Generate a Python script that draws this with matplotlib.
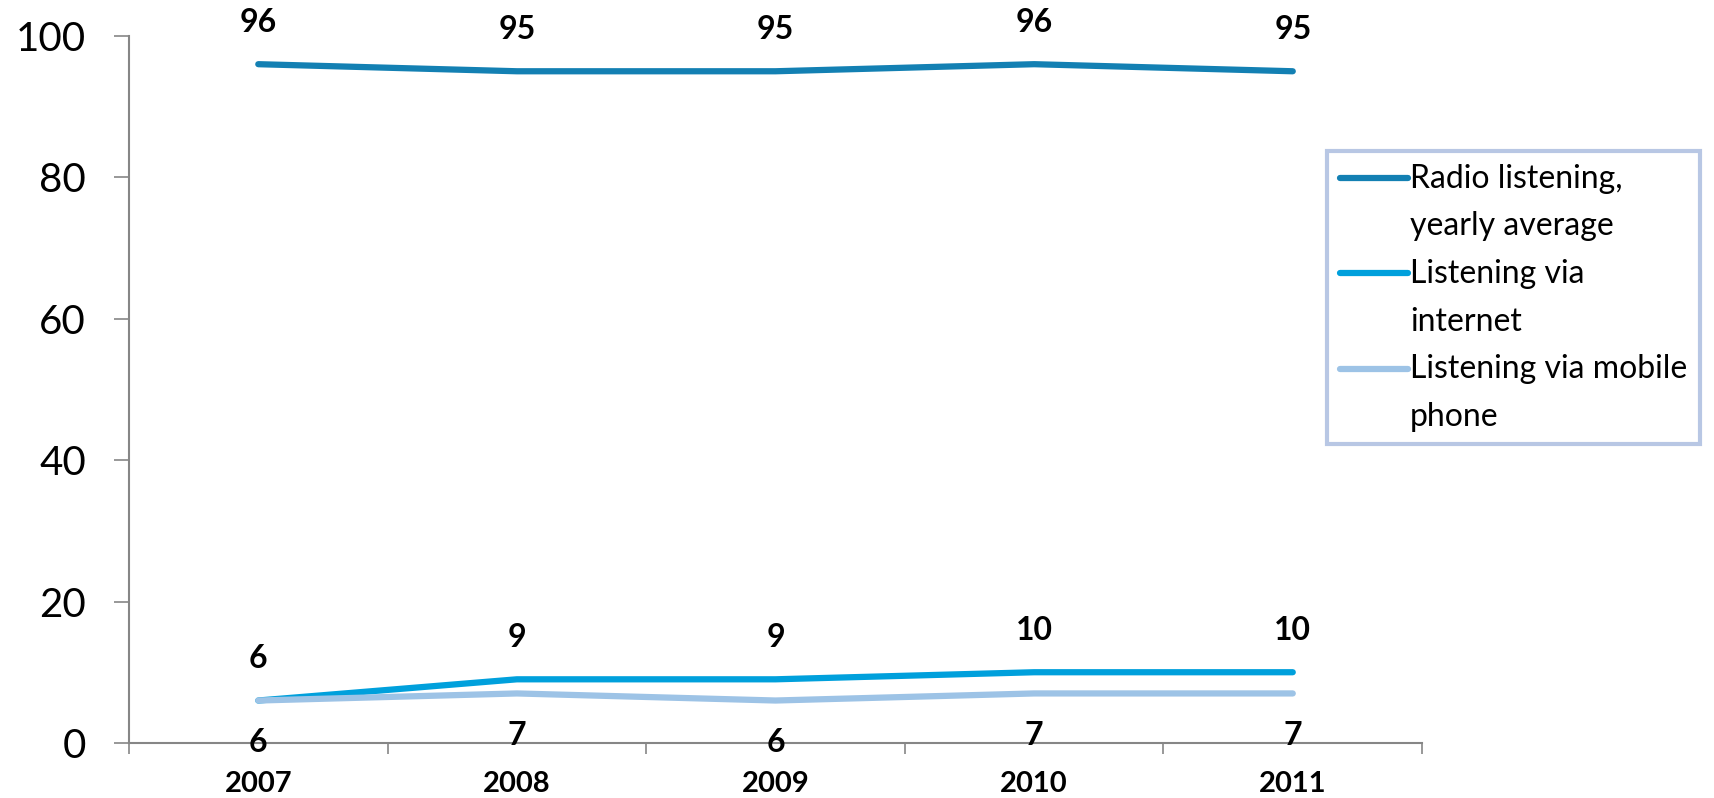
import matplotlib.pyplot as plt
from matplotlib.legend_handler import HandlerLine2D
from matplotlib.lines import Line2D
from matplotlib.ticker import FixedLocator

YEARS = ["2007", "2008", "2009", "2010", "2011"]
RADIO = [96, 95, 95, 96, 95]
INTERNET = [6, 9, 9, 10, 10]
MOBILE = [6, 7, 6, 7, 7]

SERIES = [
    ("Radio listening,\nyearly average", RADIO, "#1380b3", 30),
    ("Listening via\ninternet", INTERNET, "#00a0dc", 30),
    ("Listening via mobile\nphone", MOBILE, "#9dc3e6", -30),
]

LEGEND_LINESPACING = 1.73


class HandlerFirstLine(HandlerLine2D):
    """Puts the legend line beside the first row of a two-row label."""

    def create_artists(self, legend, orig_handle, xdescent, ydescent,
                       width, height, fontsize, trans):
        artists = super().create_artists(legend, orig_handle, xdescent,
                                          ydescent, width, height, fontsize,
                                          trans)
        shift = (0.83 * LEGEND_LINESPACING - 0.65) * fontsize
        for a in artists:
            if isinstance(a, Line2D):
                a.set_ydata([y + shift for y in a.get_ydata()])
        return artists


plt.rcParams["font.family"] = ["Lato", "DejaVu Sans"]

fig = plt.figure(figsize=(17.15, 7.98), dpi=100)
ax = fig.add_axes([0.0752, 0.069, 0.754, 0.886])

x = list(range(len(YEARS)))
for label, values, color, offset in SERIES:
    ax.plot(x, values, color=color, lw=4.5, solid_capstyle="round",
            solid_joinstyle="round", label=label)
    for xi, v in zip(x, values):
        ax.annotate(str(v), (xi, v), xytext=(0, offset), textcoords="offset points",
                    ha="center", va="center", fontsize=23, fontweight="bold")

ax.set_xlim(-0.5, len(YEARS) - 0.5)
ax.set_ylim(0, 100)
ax.set_yticks(range(0, 101, 20))
ax.tick_params(axis="y", labelsize=29, length=11, width=1.2, color="#868686", pad=20)
ax.set_xticks(x)
ax.set_xticklabels(YEARS, fontsize=21, fontweight="bold")
ax.xaxis.set_minor_locator(FixedLocator([i - 0.5 for i in range(len(YEARS) + 1)]))
ax.tick_params(axis="x", which="major", length=0, pad=20)
ax.tick_params(axis="x", which="minor", length=8, width=1.2, color="#868686")

for side in ("top", "right"):
    ax.spines[side].set_visible(False)
for side in ("left", "bottom"):
    ax.spines[side].set_color("#868686")
    ax.spines[side].set_linewidth(1.5)

leg = ax.legend(loc="upper left", bbox_to_anchor=(0.9265, 0.837), fontsize=23,
                frameon=True, fancybox=False, handlelength=2.15,
                handletextpad=0.05, labelspacing=0.55, borderpad=0.4,
                borderaxespad=0, handler_map={Line2D: HandlerFirstLine()})
for t in leg.get_texts():
    t.set_linespacing(LEGEND_LINESPACING)
leg.get_frame().set_edgecolor("#a7b9de")
leg.get_frame().set_linewidth(3)

fig.savefig("out.png", dpi=100)
